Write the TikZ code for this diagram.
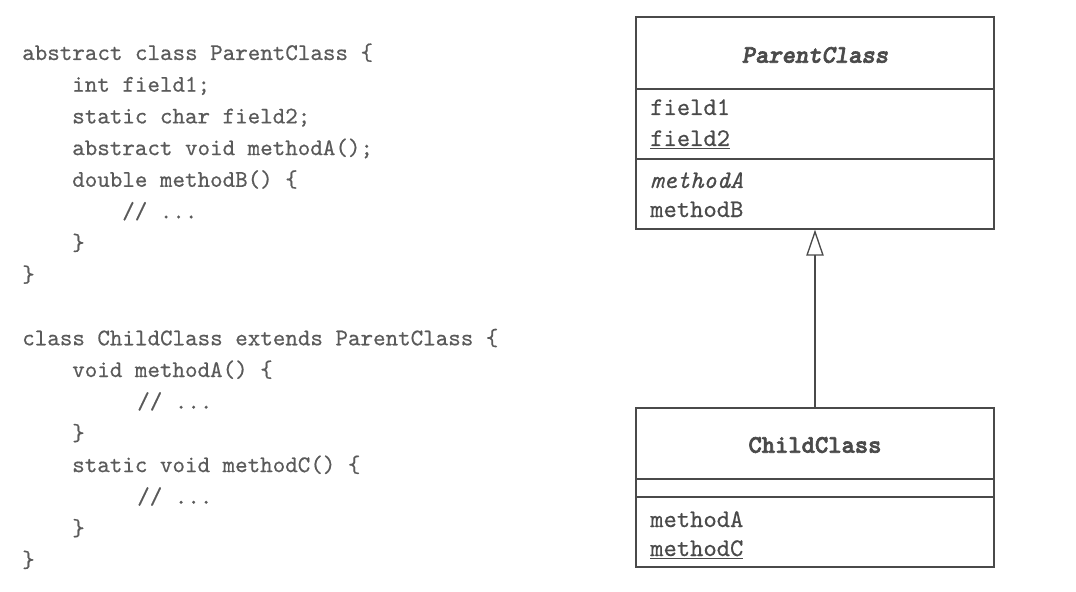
\documentclass[tikz,border=0pt]{standalone}
\usepackage{fontspec}
\usetikzlibrary{arrows.meta,positioning}
\setmonofont{lmmono10-regular.otf}[FakeBold=0.5, ItalicFont=lmmono10-italic.otf]
\newfontfamily\titlefont{lmmonolt10-bold.otf}[FakeBold=2.5, ItalicFont=lmmonolt10-boldoblique.otf]
\definecolor{inkgray}{HTML}{4A4A4A}
\definecolor{codegray}{HTML}{5A5A5A}
\tikzset{
  code/.style={anchor=base west, inner sep=0pt, text=codegray, font=\ttfamily\fontsize{17.9}{20}\selectfont},
  member/.style={anchor=base west, inner sep=0pt, text=inkgray, font=\ttfamily\fontsize{19}{22}\selectfont},
  classname/.style={inner sep=0pt, text=inkgray, font=\titlefont\fontsize{19}{22}\selectfont},
  classbox/.style={draw=inkgray, line width=1pt, minimum width=268.5pt, inner sep=0pt},
  divider/.style={draw=inkgray, line width=1pt},
  inherit/.style={draw=inkgray, line width=1pt, -{Triangle[open,length=19.5pt,width=13pt]}}
}
\begin{document}
\begin{tikzpicture}[x=0.75pt,y=-0.75pt]
\useasboundingbox (0,0) rectangle (1076,592);

% Java code, ParentClass
\node[code] (p1) at (22,60) {abstract class ParentClass \{};
\node[code] (p2) at (72,91.7) {int field1;};
\node[code] (p3) at (72,123.4) {static char field2;};
\node[code] (p4) at (72,155.1) {abstract void methodA();};
\node[code] (p5) at (72,186.8) {double methodB() \{};
\node[code] (p6) at (122,218.5) {// ...};
\node[code] (p7) at (72,250.2) {\}};
\node[code] (p8) at (22,281.9) {\}};

% Java code, ChildClass
\node[code] (c1) at (22,345.3) {class ChildClass extends ParentClass \{};
\node[code] (c2) at (72,377) {void methodA() \{};
\node[code] (c3) at (137,408.7) {// ...};
\node[code] (c4) at (72,440.4) {\}};
\node[code] (c5) at (72,472.1) {static void methodC() \{};
\node[code] (c6) at (137,503.8) {// ...};
\node[code] (c7) at (72,535.5) {\}};
\node[code] (c8) at (22,567.2) {\}};

% UML ParentClass
\node[classbox, minimum height=159pt] (parent) at (815,123) {};
\node[classname] (parentname) at (815,55) {\itshape ParentClass};
\draw[divider] (636,89) -- (994,89);
\draw[divider] (636,159) -- (994,159);
\node[member] (field1) at (650,115) {field1};
\node[member] (field2) at (650,146) {\underline{field2}};
\node[member] (methodA) at (650,188) {\itshape methodA};
\node[member] (methodB) at (650,217) {methodB};

% UML ChildClass
\node[classbox, minimum height=119.25pt] (child) at (815,487.5) {};
\node[classname] (childname) at (815,445) {ChildClass};
\draw[divider] (636,479) -- (994,479);
\draw[divider] (636,497) -- (994,497);
\node[member] (cmethodA) at (650,527) {methodA};
\node[member] (cmethodC) at (650,556) {\underline{methodC}};

% inheritance
\draw[inherit] (child.north) -- (parent.south);
\end{tikzpicture}
\end{document}
